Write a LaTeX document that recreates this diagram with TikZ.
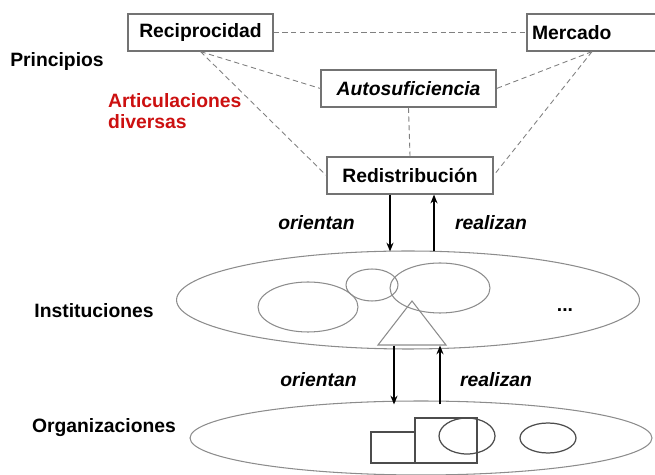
\documentclass[tikz,border=0pt]{standalone}
\usepackage{fontspec}
\setmainfont{Liberation Sans}
\usetikzlibrary{calc,arrows.meta,shapes.geometric}
\definecolor{rojo}{RGB}{204,16,16}

\begin{document}
\begin{tikzpicture} [x=0.02cm, y=-0.02cm,
            principio/.style={draw=black!55, line width=0.7pt, minimum height=0.74cm, inner sep=2pt,
                font=\fontsize{11}{13}\selectfont\bfseries},
            nivel/.style={font=\fontsize{11}{13}\selectfont\bfseries},
            verbo/.style={font=\fontsize{11}{13}\selectfont\bfseries\itshape},
            enlace/.style={densely dashed, black!50, line width=0.5pt},
            flecha/.style={-{Stealth[length=5pt,width=4pt]}, line width=1.3pt},
            campo/.style={ellipse, draw=black!45, line width=0.6pt, inner sep=0pt},
            forma/.style={draw=black!45, line width=0.6pt}]

        \useasboundingbox (0,0) rectangle (655,475);

        % principios
        \node[principio, minimum width=2.9cm] (recip) at (200.5,32.5) {Reciprocidad};
        \node[principio, minimum width=2.6cm, align=left, text width=2.4cm] (merc) at (592,32.5) {Mercado};
        \node[principio, minimum width=3.5cm, font=\fontsize{11}{13}\selectfont\bfseries\itshape] (auto) at (408.5,88.5) {Autosuficiencia};
        \node[principio, minimum width=3.32cm] (redis) at (410,175.5) {Redistribución};

        \draw[enlace] (recip.east) -- (merc.west);
        \draw[enlace] (recip.south) -- (auto.west);
        \draw[enlace] (recip.south) -- (redis.west);
        \draw[enlace] (merc.south) -- (auto.east);
        \draw[enlace] (merc.south) -- (redis.east);
        \draw[enlace] (auto.south) -- (redis.north);

        % niveles
        \node[nivel] (princ) at (57,62) {Principios};
        \node[nivel, text=rojo, anchor=west, align=left] (artic) at (102,111) {Articulaciones\\[-1pt]diversas};
        \node[nivel] (instlab) at (94,311) {Instituciones};
        \node[nivel] (orglab) at (104,428) {Organizaciones};

        \node[campo, minimum width=9.26cm, minimum height=1.96cm] (inst) at (408,300) {};
        \node[campo, minimum width=9.24cm, minimum height=1.48cm] (org) at (421,438) {};

        % instituciones por dentro
        \draw[forma] (308,307) ellipse [x radius=1cm, y radius=0.5cm];
        \draw[forma] (372,285) ellipse [x radius=0.52cm, y radius=0.32cm];
        \draw[forma] (440,288) ellipse [x radius=1cm, y radius=0.5cm];
        \draw[forma] (412,301) -- (378,345) -- (446,345) -- cycle;
        \node[nivel] (puntos) at (565,310) {...};

        % organizaciones por dentro
        \draw[draw=black!70, line width=0.7pt] (371,432) rectangle (415,463);
        \draw[draw=black!70, line width=0.7pt] (415,418) rectangle (477,463);
        \draw[draw=black!70, line width=0.7pt] (467,436) ellipse [x radius=0.56cm, y radius=0.36cm];
        \draw[draw=black!70, line width=0.7pt] (548,438) ellipse [x radius=0.56cm, y radius=0.3cm];

        % flechas
        \draw[flecha] ($(redis.south)+(-20,0)$) -- ($(inst.north)+(-18,1)$);
        \draw[flecha] ($(inst.north)+(26,1)$) -- ($(redis.south)+(24,0)$);
        \node[verbo] (orient1) at (316.5,223) {orientan};
        \node[verbo] (realiz1) at (491,223) {realizan};

        \draw[flecha] ($(inst.south)+(-14,-4)$) -- ($(org.north)+(-27,4)$);
        \draw[flecha] ($(org.north)+(19,4)$) -- ($(inst.south)+(32,-4)$);
        \node[verbo] (orient2) at (318.5,380) {orientan};
        \node[verbo] (realiz2) at (496,380) {realizan};
    \end{tikzpicture}
\end{document}
